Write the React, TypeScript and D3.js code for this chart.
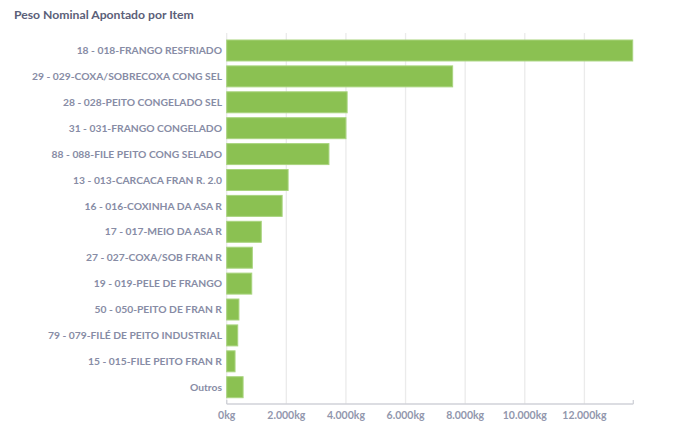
import React from "react";
import * as d3 from "d3";

const categories = [
  "18 - 018-FRANGO RESFRIADO",
  "29 - 029-COXA/SOBRECOXA CONG SEL",
  "28 - 028-PEITO CONGELADO SEL",
  "31 - 031-FRANGO CONGELADO",
  "88 - 088-FILE PEITO CONG SELADO",
  "13 - 013-CARCACA FRAN R. 2.0",
  "16 - 016-COXINHA DA ASA R",
  "17 - 017-MEIO DA ASA R",
  "27 - 027-COXA/SOB FRAN R",
  "19 - 019-PELE DE FRANGO",
  "50 - 050-PEITO DE FRAN R",
  "79 - 079-FILÉ DE PEITO INDUSTRIAL",
  "15 - 015-FILE PEITO FRAN R",
  "Outros",
];
const values = [13620, 7580, 4040, 4000, 3430, 2060, 1860, 1160, 860, 840, 410, 370, 280, 550];
const ticks = [0, 2000, 4000, 6000, 8000, 10000, 12000];
const title = "Peso Nominal Apontado por Item";

const W = 685;
const H = 432;
const x0 = 226.7;
const x1 = 633.3;
const yTop = 33;
const yAxis = 404;

export default function App() {
  const x = d3.scaleLinear().domain([0, 13640]).range([x0, x1]);
  const y = d3
    .scaleBand<string>()
    .domain(categories)
    .range([37.4, 400.3])
    .paddingInner(0.19)
    .paddingOuter(0.1);
  const fmt = (v: number) => d3.format(",")(v).replace(/,/g, ".") + "kg";
  const font = "Lato, 'Open Sans', sans-serif";
  return (
    <svg
      width={W}
      height={H}
      style={{ position: "absolute", left: 0, top: 0, background: "#fff" }}
    >
      <text x={14} y={19} fontFamily={font} fontWeight={700} fontSize={12.2} fill="#5b6079">
        {title}
      </text>
      {ticks.map((t) => (
        <line
          key={"g" + t}
          x1={x(t)}
          x2={x(t)}
          y1={yTop}
          y2={yAxis}
          stroke="#ebebeb"
          strokeWidth={1.3}
        />
      ))}
      {categories.map((c, i) => (
        <g key={c}>
          <rect
            x={x(0)}
            y={y(c)!}
            width={x(values[i]) - x(0)}
            height={y.bandwidth()}
            fill="#8bc152"
            stroke="#a9d47f"
            strokeWidth={1}
          />
          <text
            x={222}
            y={y(c)! + y.bandwidth() / 2}
            dy="0.35em"
            textAnchor="end"
            fontFamily={font}
            fontWeight={700}
            fontSize={10.3}
            fill="#878ca5"
          >
            {c}
          </text>
        </g>
      ))}
      <line x1={x0} x2={x1} y1={yAxis} y2={yAxis} stroke="#d0d2d8" strokeWidth={1.3} />
      <line x1={x0} x2={x0} y1={yAxis - 4} y2={yAxis} stroke="#d0d2d8" strokeWidth={1.3} />
      <line x1={x1} x2={x1} y1={yAxis - 4} y2={yAxis} stroke="#d0d2d8" strokeWidth={1.3} />
      {ticks.map((t) => (
        <text
          key={"t" + t}
          x={x(t)}
          y={415}
          dy="0.35em"
          textAnchor="middle"
          fontFamily={font}
          fontWeight={700}
          fontSize={10.5}
          fill="#9297ad"
        >
          {fmt(t)}
        </text>
      ))}
    </svg>
  );
}
